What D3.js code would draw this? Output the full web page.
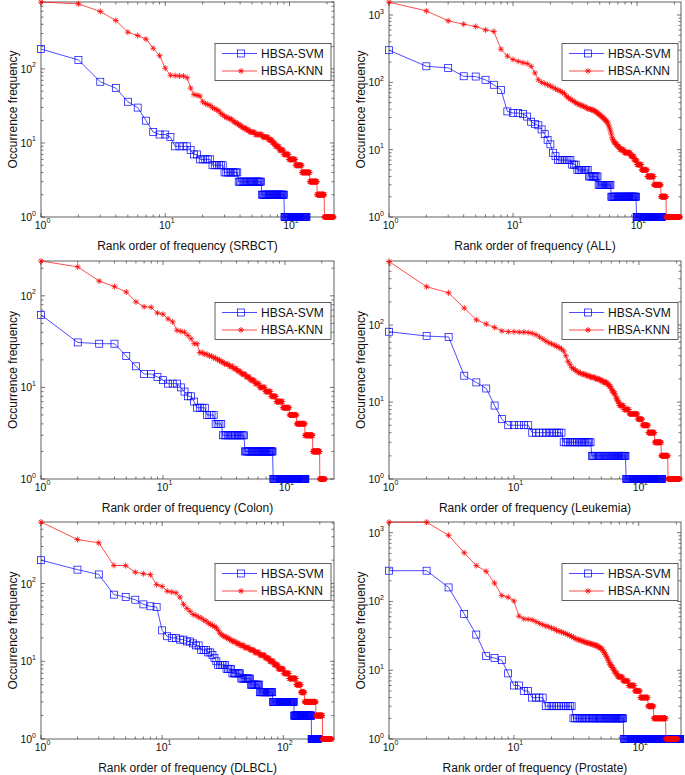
<!DOCTYPE html>
<html><head><meta charset="utf-8">
<script src="https://cdn.jsdelivr.net/npm/d3@7"></script>
<style>
html,body{margin:0;padding:0;background:#fff;}
svg{display:block;font-family:"Liberation Sans",Arial,Helvetica,sans-serif;}
</style></head><body>
<svg id="c" width="685" height="775"></svg>
<script>
// ---------------- data ----------------
const datasetNames = ["SRBCT", "ALL", "Colon", "Leukemia", "DLBCL", "Prostate"];
const seriesNames = ["HBSA-SVM", "HBSA-KNN"];
const xAxisLabel = "Rank order of frequency";
const yAxisLabel = "Occurrence frequency";

// runs of [occurrence frequency, number of consecutive ranks with that frequency]
const srbctSvm = [[185,1],[132,1],[67,1],[55,1],[36,1],[30,1],[20,1],[14,1],[13,2],[12,1],[9,4],[8,1],[7,2],[6,5],[5,6],[4,9],[3,21],[2,31],[1,47]];
const srbctKnn = [[800,1],[755,1],[595,1],[450,1],[313,1],[282,1],[252,1],[190,1],[151,1],[102,1],[82,1],[81,1],[80,2],[76,1],[55,1],[45,1],[44,1],[43,1],
  [36,1],[34,1],[33,1],[32,1],[30,1],[29,1],[28,1],[27,1],[25,1],[24,1],[23,1],[22,2],[21,2],[20,1],[19,2],[18,2],[17,2],
  [16,3],[15,3],[14,5],[13,8],[12,7],[11,5],[10,4],[9,6],[8,7],[7,9],[6,13],[5,14],[4,20],[3,21],[2,24],[1,36]];

const allSvm = [[300,1],[173,1],[164,1],[123,1],[122,1],[109,1],[92,1],[77,1],[37,1],[35,2],[34,1],[31,1],[26,1],[24,1],[23,1],[20,1],[17,1],[14,1],[12,1],[9,1],[8,1],
  [7,7],[6,3],[5,8],[4,8],[3,13],[2,37],[1,61]];
const allKnn = [[1550,1],[1150,1],[820,1],[730,1],[675,1],[600,1],[570,1],[310,1],[245,1],[218,1],[205,1],[196,1],[190,1],[173,1],[138,1],[109,1],[100,1],[96,1],[92,1],[88,1],
  [84,1],[80,1],[77,1],[74,1],[71,1],[68,1],[62,1],[59,1],[56,1],[54,1],[52,1],[50,1],[48,1],[47,1],[46,1],
  [45,1],[44,1],[43,1],[42,1],[41,1],[40,2],[39,2],[38,1],[37,1],[36,1],[35,1],[34,1],[33,1],[32,1],[31,1],[30,1],[29,1],[28,1],
  [27,1],[26,1],[25,1],[23,1],[21,1],[19,1],[17,1],[15,1],[14,1],[13,2],[12,3],[11,3],[10,6],[9,10],[8,6],[7,5],[6,9],[5,12],[4,16],[3,19],[2,16],[1,51]];

const colonSvm = [[62,1],[31,1],[30,2],[22,1],[17,1],[14,2],[13,1],[12,1],[11,3],[10,1],[9,1],[8,2],[7,1],[6,4],[5,4],[4,4],[3,16],[2,33],[1,68]];
const colonKnn = [[240,1],[207,1],[145,1],[126,1],[110,1],[86,1],[76,1],[75,1],[65,1],[63,1],[56,1],[52,1],[42,1],[41,1],[40,1],[37,1],[34,1],[30,2],[24,2],
  [23,2],[22,2],[21,2],[20,2],[19,2],[18,3],[17,3],[16,3],[15,3],[14,4],[13,4],[12,5],[11,5],[10,7],[9,8],[8,8],[7,11],[6,13],[5,16],[4,21],[3,23],[2,24],[1,20]];

const leukemiaSvm = [[82,1],[72,1],[70,1],[22,1],[18,1],[15,1],[9,1],[6,1],[5,5],[4,11],[3,17],[2,37],[1,75]];
const leukemiaKnn = [[670,1],[315,1],[262,1],[166,1],[117,1],[103,1],[93,1],[84,1],[82,2],[81,2],[80,1],[78,1],[75,1],
  [70,1],[66,1],[62,1],[59,1],[57,1],[55,1],[53,1],[51,1],[49,1],[46,1],[40,1],[34,1],[31,1],[28,1],[27,1],[26,1],[25,1],[24,2],[23,3],[22,3],[21,4],[20,4],[19,3],[18,4],
  [17,2],[16,2],[15,1],[14,2],[13,2],[12,1],[11,2],[10,2],[9,6],[8,8],[7,14],[6,9],[5,12],[4,15],[3,17],[2,20],[1,42]];

const dlbclSvm = [[200,1],[151,1],[131,1],[72,1],[67,1],[62,1],[54,1],[51,1],[50,1],[25,1],[21,1],[20,2],[19,2],[18,2],[17,1],[16,2],[14,3],[13,2],[12,1],[11,1],[10,1],
  [9,5],[8,4],[7,7],[6,9],[5,10],[4,18],[3,41],[2,48],[1,24]];
const dlbclKnn = [[620,1],[369,1],[334,1],[171,1],[170,1],[140,1],[134,1],[130,1],[97,1],[92,1],[80,1],[78,1],[76,1],[67,1],[54,1],
  [48,1],[44,1],[40,1],[39,1],[37,1],[36,1],[34,1],[33,1],[31,1],[30,1],[29,1],[28,1],[27,1],[25,1],[23,1],[22,1],[21,2],[20,2],[19,2],[18,3],
  [17,3],[16,4],[15,5],[14,5],[13,6],[12,7],[11,6],[10,7],[9,7],[8,10],[7,11],[6,16],[5,12],[4,10],[3,36],[2,25],[1,40]];

const prostateSvm = [[280,2],[160,1],[66,1],[33,1],[16,1],[15,1],[14,1],[9,1],[6,2],[5,2],[4,4],[3,12],[2,46],[1,140]];
const prostateKnn = [[1420,2],[916,1],[510,1],[332,1],[274,1],[185,1],[122,1],[115,1],[102,1],[61,1],[56,1],[55,1],[54,1],
  [51,1],[48,1],[46,1],[44,1],[43,1],[41,1],[40,1],[38,1],[37,1],[36,1],[35,1],[34,1],[33,1],[32,1],[31,1],[30,1],[29,1],[28,2],[27,2],[26,2],[25,3],[24,3],[23,3],[22,2],[21,2],
  [20,1],[19,1],[18,1],[17,1],[16,1],[15,1],[14,1],[13,1],[12,2],[11,2],[10,2],[9,3],[8,7],[7,8],[6,10],[5,10],[4,16],[3,13],[2,33],[1,41]];

const svmSeries = [srbctSvm, allSvm, colonSvm, leukemiaSvm, dlbclSvm, prostateSvm];
const knnSeries = [srbctKnn, allKnn, colonKnn, leukemiaKnn, dlbclKnn, prostateKnn];
const rankMax = [228, 226, 252, 217, 262, 218];
const freqMax = [800, 1560, 240, 680, 620, 1430];
const decadeExponents = [0, 1, 2, 3];
const minorMultipliers = [2, 3, 4, 5, 6, 7, 8, 9];

// ---------------- drawing ----------------
function expand(runs) {
  const pts = []; let r = 1;
  runs.forEach(([v, c]) => { for (let i = 0; i < c; i++) { pts.push({ rank: r, freq: v }); r++; } });
  return pts;
}

const svg = d3.select("#c");
const cols = [[41, 334], [389, 681]];
const rows = [[2, 217], [261, 479], [522, 739]];
const BLUE = "#0000ff", RED = "#ff0000", AX = "#3a3a3a";
const starPath = "M-3,0H3M0,-3V3M-2.1,-2.1L2.1,2.1M-2.1,2.1L2.1,-2.1";

datasetNames.forEach((name, i) => {
  const [x0, x1] = cols[i % 2];
  const [y0, y1] = rows[Math.floor(i / 2)];
  const x = d3.scaleLog().domain([1, rankMax[i]]).range([x0, x1]);
  const y = d3.scaleLog().domain([1, freqMax[i]]).range([y1, y0]);
  const g = svg.append("g");

  // ticks
  const xt = [], yt = [];
  decadeExponents.forEach(e => {
    [1, ...minorMultipliers].forEach(m => {
      const v = m * Math.pow(10, e);
      if (v >= 1 && v <= rankMax[i] * 1.0001) xt.push({ v, major: m === 1, e });
      if (v >= 1 && v <= freqMax[i] * 1.0001) yt.push({ v, major: m === 1, e });
    });
  });
  const tk = g.append("g").attr("stroke", AX).attr("stroke-width", 0.7);
  xt.forEach(t => {
    const px = x(t.v), L = t.major ? 4 : 2.5;
    tk.append("line").attr("x1", px).attr("x2", px).attr("y1", y1).attr("y2", y1 - L);
    tk.append("line").attr("x1", px).attr("x2", px).attr("y1", y0).attr("y2", y0 + L);
  });
  yt.forEach(t => {
    const py = y(t.v), L = t.major ? 4 : 2.5;
    tk.append("line").attr("y1", py).attr("y2", py).attr("x1", x0).attr("x2", x0 + L);
    tk.append("line").attr("y1", py).attr("y2", py).attr("x1", x1).attr("x2", x1 - L);
  });
  g.append("rect").attr("x", x0).attr("y", y0).attr("width", x1 - x0).attr("height", y1 - y0)
    .attr("fill", "none").attr("stroke", AX).attr("stroke-width", 0.8);

  // tick labels
  xt.filter(t => t.major).forEach(t => {
    const tx = g.append("text").attr("x", x(t.v) + 1.5).attr("y", y1 + 11.5)
      .attr("text-anchor", "middle").attr("font-size", 10.5).attr("fill", "#111");
    tx.append("tspan").text("10");
    tx.append("tspan").attr("dy", -5.5).attr("font-size", 7).text(t.e);
  });
  yt.filter(t => t.major).forEach(t => {
    const tx = g.append("text").attr("x", x0 - 5).attr("y", y(t.v) + 4)
      .attr("text-anchor", "end").attr("font-size", 10.5).attr("fill", "#111");
    tx.append("tspan").text("10");
    tx.append("tspan").attr("dy", -5.5).attr("font-size", 7).text(t.e);
  });

  // axis labels
  g.append("text").attr("x", (x0 + x1) / 2).attr("y", y1 + 33).attr("text-anchor", "middle")
    .attr("font-size", 12).attr("fill", "#111").text(`${xAxisLabel} (${name})`);
  g.append("text").attr("transform", `translate(${x0 - 24},${(y0 + y1) / 2}) rotate(-90)`)
    .attr("text-anchor", "middle").attr("font-size", 12).attr("fill", "#111").text(yAxisLabel);

  // series
  const line = d3.line().x(d => x(d.rank)).y(d => y(d.freq));
  const svm = expand(svmSeries[i]), knn = expand(knnSeries[i]);
  g.append("path").datum(svm).attr("d", line).attr("fill", "none").attr("stroke", BLUE).attr("stroke-width", 0.7);
  g.append("g").selectAll("rect").data(svm).join("rect")
    .attr("x", d => x(d.rank) - 3.5).attr("y", d => y(d.freq) - 3.5).attr("width", 7).attr("height", 7)
    .attr("fill", "none").attr("stroke", BLUE).attr("stroke-width", 0.7);
  g.append("path").datum(knn).attr("d", line).attr("fill", "none").attr("stroke", RED).attr("stroke-width", 0.7);
  g.append("g").selectAll("path").data(knn).join("path")
    .attr("transform", d => `translate(${x(d.rank)},${y(d.freq)})`).attr("d", starPath)
    .attr("fill", "none").attr("stroke", RED).attr("stroke-width", 0.8);

  // legend
  const lx = x1 - 119, ly = y0 + 41.5;
  const lg = g.append("g");
  lg.append("rect").attr("x", lx).attr("y", ly).attr("width", 116).attr("height", 37)
    .attr("fill", "#fff").attr("stroke", AX).attr("stroke-width", 0.8);
  [[BLUE, "sq"], [RED, "star"]].forEach(([col, mk], k) => {
    const ry = ly + 10 + k * 17.5;
    lg.append("line").attr("x1", lx + 7).attr("x2", lx + 42).attr("y1", ry).attr("y2", ry)
      .attr("stroke", col).attr("stroke-width", 0.7);
    if (mk === "sq") lg.append("rect").attr("x", lx + 26 - 3.5).attr("y", ry - 3.5).attr("width", 7).attr("height", 7)
      .attr("fill", "none").attr("stroke", col).attr("stroke-width", 0.7);
    else lg.append("path").attr("transform", `translate(${lx + 26},${ry})`).attr("d", starPath)
      .attr("fill", "none").attr("stroke", col).attr("stroke-width", 0.8);
    lg.append("text").attr("x", lx + 46).attr("y", ry + 4.3).attr("font-size", 12).attr("fill", "#111").text(seriesNames[k]);
  });
});
</script>
</body></html>
